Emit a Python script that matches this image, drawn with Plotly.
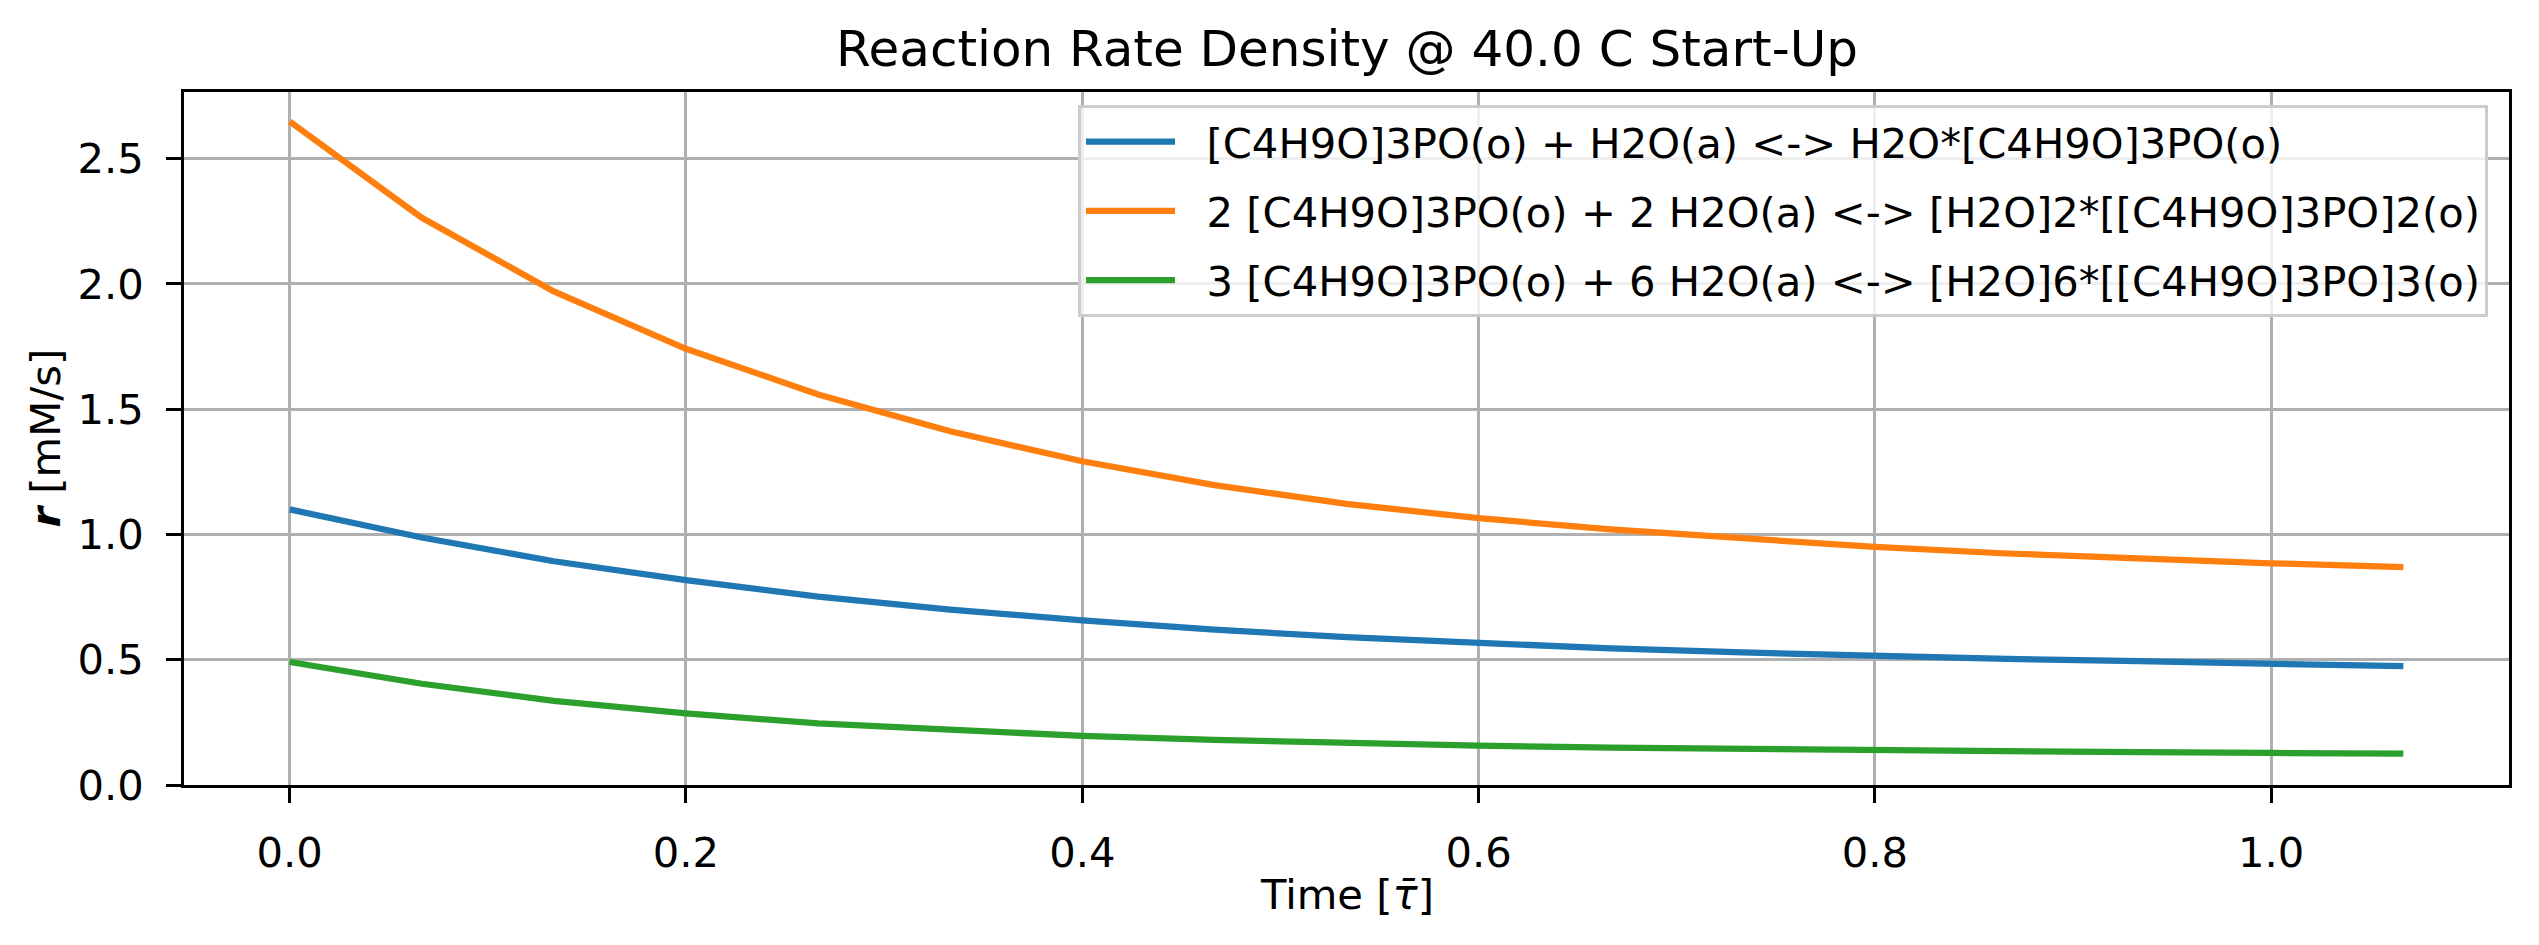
import plotly.graph_objects as go

# Time points [tau-bar]
time = [0.0, 0.0667, 0.1333, 0.2, 0.2667, 0.3333, 0.4, 0.4667, 0.5333,
        0.6, 0.6667, 0.7333, 0.8, 0.8667, 0.9333, 1.0, 1.0667]

# Reaction rate densities [mM/s]
r1 = [1.100, 0.988, 0.893, 0.818, 0.752, 0.700, 0.657, 0.620, 0.590,
      0.565, 0.545, 0.529, 0.515, 0.503, 0.494, 0.486, 0.474]
r2 = [2.648, 2.264, 1.970, 1.741, 1.559, 1.412, 1.292, 1.197, 1.122,
      1.065, 1.020, 0.982, 0.950, 0.924, 0.903, 0.885, 0.870]
r3 = [0.491, 0.404, 0.336, 0.286, 0.246, 0.218, 0.196, 0.180, 0.167,
      0.157, 0.149, 0.143, 0.138, 0.134, 0.131, 0.128, 0.125]

labels = [
    "[C4H9O]3PO(o) + H2O(a) <-> H2O*[C4H9O]3PO(o)",
    "2 [C4H9O]3PO(o) + 2 H2O(a) <-> [H2O]2*[[C4H9O]3PO]2(o)",
    "3 [C4H9O]3PO(o) + 6 H2O(a) <-> [H2O]6*[[C4H9O]3PO]3(o)",
]
colors = ["#1f77b4", "#ff7f0e", "#2ca02c"]

x_ticks = [0.0, 0.2, 0.4, 0.6, 0.8, 1.0]
y_ticks = [0.0, 0.5, 1.0, 1.5, 2.0, 2.5]

title = "Reaction Rate Density @ 40.0 C Start-Up"
xlabel = "Time [<i>τ̄</i>]"
ylabel = "<b><i>r</i></b> [mM/s]"

W, H = 2539, 945
L, R, T, B = 184, 2509, 92, 785
FONT = "DejaVu Sans"
FS = 41.7

fig = go.Figure()
for i, (ys, lab, c) in enumerate(zip([r1, r2, r3], labels, colors)):
    fig.add_trace(go.Scatter(x=time, y=ys, mode="lines",
                             name="\u00a0\u00a0" + lab, legendgroup=f"g{i}",
                             line=dict(color=c, width=6.25)))

axis_common = dict(
    showline=True, linecolor="black", linewidth=3.3, mirror=True,
    ticks="outside", ticklen=14.6, tickwidth=3.3, tickcolor="black",
    showgrid=True, gridcolor="#b0b0b0", gridwidth=3.3,
    zeroline=False, tickfont=dict(family=FONT, size=FS, color="black"),
    tickformat=".1f", ticklabelstandoff=14,
)

fig.update_xaxes(range=[-0.05333, 1.12], tickvals=x_ticks, **axis_common)
fig.update_yaxes(range=[0, 2.766], tickvals=y_ticks, **axis_common)

ph = B - T
fig.update_layout(
    width=W, height=H,
    margin=dict(l=L, r=W - R, t=T, b=H - B),
    plot_bgcolor="white", paper_bgcolor="white",
    font=dict(family=FONT, size=FS, color="black"),
    showlegend=True,
    legend=dict(
        x=1 - 21 / (R - L), y=(B - 105) / ph, xanchor="right", yanchor="top",
        bgcolor="rgba(255,255,255,0.8)", bordercolor="#cccccc", borderwidth=3,
        font=dict(family=FONT, size=FS, color="black"),
        itemwidth=89, tracegroupgap=12,
    ),
    annotations=[
        dict(text=title, x=0.5, y=(B - 49) / ph, xref="paper", yref="paper",
             xanchor="center", yanchor="middle", showarrow=False,
             font=dict(family=FONT, size=50, color="black")),
        dict(text=xlabel, x=0.5, y=(B - 895) / ph, xref="paper", yref="paper",
             xanchor="center", yanchor="middle", showarrow=False,
             font=dict(family=FONT, size=FS, color="black")),
        dict(text=ylabel, x=(45 - L) / (R - L), y=0.5, xref="paper", yref="paper",
             xanchor="center", yanchor="middle", showarrow=False, textangle=-90,
             font=dict(family=FONT, size=FS, color="black")),
    ],
)

fig.write_html("out.html")
